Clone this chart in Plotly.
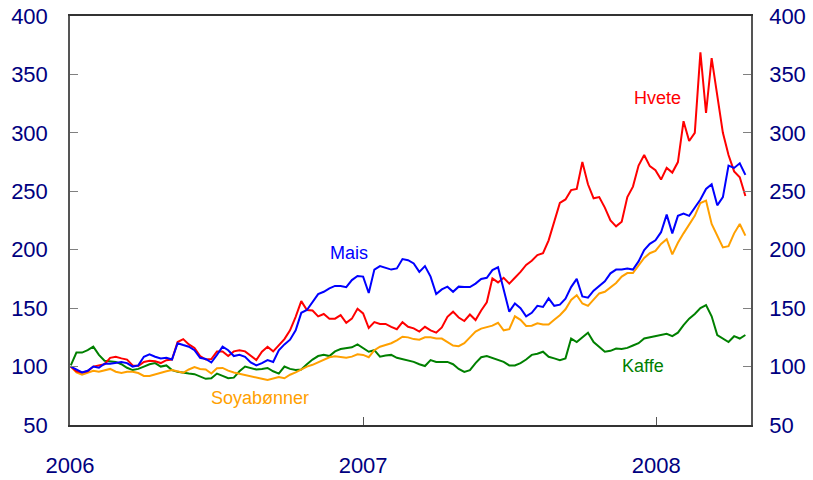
import pandas as pd
import plotly.graph_objects as go

# weekly observations, index 2006-01-02 = 100
dates = pd.date_range("2006-01-02", periods=121, freq="7D")

hvete = [
    100, 96, 95, 96, 100, 101, 102, 107.5, 108.4, 107,
    106, 101, 100.5, 104, 105, 104.5, 103, 105.5, 106, 121,
    123.5, 119, 116, 109, 106, 106.5, 113, 113, 109, 113,
    114, 113, 109, 105.6, 112.7, 117, 113, 118.4, 123.5, 131,
    142.6, 156, 148.4, 148, 143, 145, 141, 141, 144, 137.5,
    141, 149.5, 145.5, 133, 138, 136.5, 136.5, 134, 132, 138,
    134, 132.7, 130, 134, 131, 129, 133.5, 142.6, 147, 142,
    139, 144.5, 139.8, 148, 155, 175.5, 172, 176, 171, 176,
    181, 187, 190.5, 195.4, 197, 208, 225, 240, 243, 251,
    252, 275, 256, 244, 245, 236, 225, 220, 224, 245,
    254, 272, 281, 271.5, 268, 260, 270, 266, 275, 310,
    293, 300, 369, 317, 364, 330, 300, 281, 267, 262,
    246,
]

mais = [
    100, 97.5, 95, 96.4, 100, 99, 102.5, 102.5, 103.5, 104,
    103, 100, 101, 108.4, 110.5, 108.4, 107, 107.5, 106, 120,
    118.4, 117, 114, 107.5, 106.5, 103.5, 110, 117, 114, 109,
    110, 108.4, 103.5, 101, 103, 105.6, 104, 114, 119, 123,
    131, 146, 148.4, 155, 162, 164, 167, 169, 169, 168,
    174, 177.5, 177, 163, 183, 186, 184.5, 183, 184, 192,
    191, 188.3, 181, 186, 177, 162, 166, 168.4, 164, 168.4,
    168, 168, 171, 175, 176, 182.6, 185, 165, 147, 154,
    150, 143, 146, 152, 151, 158.4, 152, 153, 158, 168,
    175, 160, 159, 165, 169, 173, 179.8, 183, 183, 184,
    183, 190, 199.7, 205, 208, 215, 230, 214, 229, 231,
    229, 236, 243, 252, 256, 238, 245, 272, 270, 274,
    264,
]

soya = [
    100, 95, 93, 94.7, 96.4, 95.6, 97, 98, 95.6, 94.5,
    95.5, 95.6, 94.5, 92, 92, 93.5, 94.5, 96, 97, 96,
    94.7, 97.5, 99.5, 98, 97.5, 94, 98.5, 98.8, 96.5, 95,
    93.8, 92.5, 91.3, 90.5, 89.5, 88.5, 89.5, 91, 90, 93,
    95, 97.5, 100, 101.5, 103.5, 106, 108, 108.8, 108, 107.5,
    108.5, 110.5, 110, 108, 114, 117, 118.5, 120, 122.5, 125.5,
    125, 123.5, 123, 125, 125, 124, 124, 121, 118, 117.5,
    120, 125, 130, 132.5, 133.5, 135, 137.5, 131, 132, 143,
    140, 134.7, 135, 137, 136, 136, 140, 144, 149, 157,
    161, 154, 152, 157, 162.6, 164, 168, 171.5, 177, 180,
    180, 186, 193, 197, 199, 205, 209, 196, 206, 214,
    221, 229, 240, 242, 222, 212, 202, 203, 214, 222,
    212,
]

kaffe = [
    101, 112, 112, 114, 117, 110, 105, 104.7, 104, 102,
    99, 97, 98, 100, 102, 103, 100, 101, 97, 95.5,
    94.5, 94, 93.5, 91.5, 89.5, 90, 94, 92, 90, 90.5,
    96, 100, 99, 97.5, 98, 98.8, 96, 94, 100, 98,
    97, 97.5, 102, 106, 109, 110, 109, 113, 115, 116,
    116.5, 119, 116, 112.7, 114, 108.5, 109.5, 110, 107.5, 106.5,
    105.5, 104, 102, 100.5, 105.6, 104, 104, 104, 102, 98,
    95.5, 97, 103, 108, 109, 107.5, 106, 104, 101, 101,
    103, 106, 110, 111, 112.7, 108.4, 107, 105.5, 107, 124,
    121, 125, 129, 121, 117, 112.7, 113.5, 115.5, 115, 116,
    118, 120, 124, 125, 125.5, 127, 128, 126, 129, 135.5,
    141, 145, 150, 152.6, 143, 127, 124, 121, 126, 124,
    127,
]

series = [
    ("Kaffe", kaffe, "#008000"),
    ("Soyabønner", soya, "#ffa000"),
    ("Hvete", hvete, "#ff0000"),
    ("Mais", mais, "#0000ff"),
]

# label positions (date, value)
labels = [
    ("Hvete", "2008-01-03", 330, "#ff0000"),
    ("Mais", "2006-12-14", 197, "#0000ff"),
    ("Soyabønner", "2006-08-26", 73, "#ffa000"),
    ("Kaffe", "2007-12-15", 100.5, "#008000"),
]

fig = go.Figure()
for name, vals, col in series:
    fig.add_trace(go.Scatter(x=dates, y=vals, name=name, mode="lines",
                             line=dict(color=col, width=2)))

# invisible trace so the right-hand axis gets drawn
fig.add_trace(go.Scatter(x=[dates[0]], y=[100], yaxis="y2", mode="lines",
                         opacity=0, hoverinfo="skip", showlegend=False))

for txt, d, v, col in labels:
    fig.add_annotation(x=d, y=v, text=txt, showarrow=False,
                       font=dict(color=col, size=18))

tickfont = dict(family="Liberation Sans, Arial", size=22, color="#000080")

fig.update_layout(
    width=813, height=480,
    margin=dict(l=70, r=62, t=16, b=55),
    paper_bgcolor="white", plot_bgcolor="white",
    showlegend=False,
    font=dict(family="Liberation Sans, Arial"),
    xaxis=dict(range=["2006-01-01", "2008-04-28"],
               tick0="2006-01-01", dtick="M12", tickformat="%Y",
               ticks="inside", ticklen=8, tickcolor="#555",
               showline=True, mirror=True, linecolor="#333", linewidth=2,
               showgrid=False, zeroline=False, automargin=False,
               tickfont=tickfont, ticklabelstandoff=20),
    yaxis=dict(range=[50, 400], dtick=50,
               ticks="inside", ticklen=8, tickcolor="#808080",
               showline=True, linecolor="#555", linewidth=1.5,
               showgrid=False, zeroline=False, automargin=False,
               tickfont=tickfont, ticklabelstandoff=16),
    yaxis2=dict(range=[50, 400], dtick=50, overlaying="y", side="right",
                ticks="inside", ticklen=8, tickcolor="#808080",
                showline=True, linecolor="#555", linewidth=1.5,
                showgrid=False, zeroline=False, automargin=False,
                tickfont=tickfont, ticklabelstandoff=12),
)

# drop the default 8px body margin so the figure sits at the window corner
fig.write_html("out.html", config={"displayModeBar": False},
               post_script="document.body.style.margin='0';")
